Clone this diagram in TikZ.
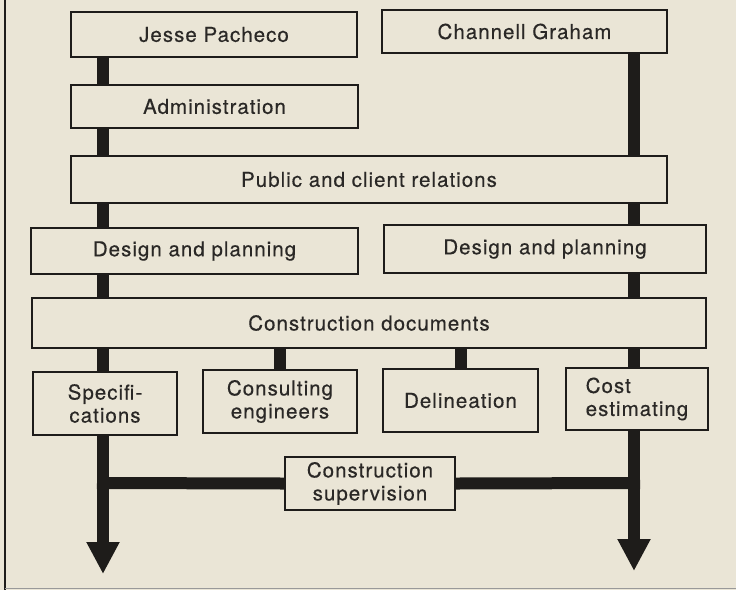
\documentclass[tikz,border=0pt]{standalone}
\usepackage{fontspec}
\setmainfont[LetterSpace=5,FakeBold=0.4]{TeX Gyre Heros}
\usetikzlibrary{arrows.meta}
\pgfdeclarelayer{bg}
\pgfsetlayers{bg,main}
\definecolor{paper}{RGB}{234,229,214}
\definecolor{ink}{RGB}{30,28,26}
\definecolor{txt}{RGB}{42,40,38}
\tikzset{
  box/.style={draw=ink, line width=2pt, fill=paper, rectangle, inner sep=0pt,
    text=txt, font=\fontsize{20.5}{23}\selectfont, align=center},
  flow/.style={draw=ink, line width=12pt},
  flowarrow/.style={draw=ink, line width=12pt, -{Triangle[width=31pt,length=32pt]}},
}
\begin{document}
\begin{tikzpicture}[x=1pt,y=-1pt]
\useasboundingbox (0,0) rectangle (736,590);

% coordinates for line routes
\coordinate (lend) at (103,574);
\coordinate (rend) at (634,571);
\coordinate (lbar) at (103,483);
\coordinate (rbar) at (634,483);

% nodes
\node[box, minimum width=286, minimum height=45] (jp) at (214,34.5) {Jesse Pacheco};
\node[box, minimum width=285, minimum height=43] (cg) at (524.5,31.5) {Channell Graham};
\node[box, minimum width=287, minimum height=43] (adm) at (214.5,106.5) {Administration};
\node[box, minimum width=596, minimum height=47] (pcr) at (369,179.5) {Public and client relations};
\node[box, minimum width=327, minimum height=46] (dpl) at (194.5,251) {Design and planning};
\node[box, minimum width=322, minimum height=48] (dpr) at (545,249) {Design and planning};
\node[box, minimum width=674, minimum height=50] (cd) at (369,323) {Construction documents};
\node[box, minimum width=144, minimum height=63] (spec) at (105,403.5) {Specifi-\\cations};
\node[box, minimum width=154, minimum height=63] (ce) at (280,401.5) {Consulting\\engineers};
\node[box, minimum width=155, minimum height=63] (del) at (460.5,400.5) {Delineation};
\node[box, minimum width=142, minimum height=62, align=left] (cost) at (637,399) {Cost\\estimating};
\node[box, minimum width=170, minimum height=53] (cs) at (370,483.5) {Construction\\supervision};

% connectors (drawn behind the boxes)
\begin{pgfonlayer}{bg}
\fill[paper] (0,0) rectangle (736,590);
\draw[ink, line width=2pt] (5,0) -- (5,590);
\draw[black!40, line width=1pt] (5,588.5) -- (736,588.5);
\draw[flowarrow] (jp.south -| lend) -- (lend);
\draw[flowarrow] (cg.south -| rend) -- (rend);
\draw[flow] (cd.south -| ce.north) -- (ce.north);
\draw[flow] (cd.south -| del.north) -- (del.north);
\draw[flow] ([xshift=-6pt]lbar) -- (cs.west);
\draw[flow] (cs.east) -- ([xshift=6pt]rbar);
\end{pgfonlayer}
\end{tikzpicture}
\end{document}
